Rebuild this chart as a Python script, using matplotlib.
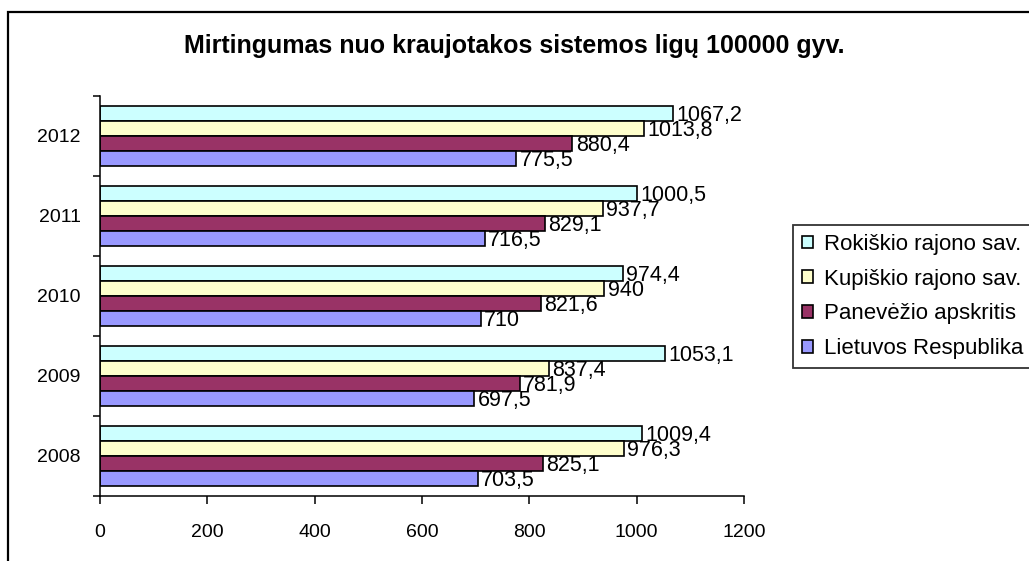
import matplotlib
matplotlib.use("Agg")
import matplotlib.pyplot as plt
from matplotlib import font_manager
from matplotlib.patches import Rectangle
from matplotlib.ticker import FixedLocator
import numpy as np

years = ["2008", "2009", "2010", "2011", "2012"]
rokiskio = [1009.4, 1053.1, 974.4, 1000.5, 1067.2]
kupiskio = [976.3, 837.4, 940, 937.7, 1013.8]
panevezio = [825.1, 781.9, 821.6, 829.1, 880.4]
lietuvos = [703.5, 697.5, 710, 716.5, 775.5]

series = [
    ("Rokiškio rajono sav.", rokiskio, "#CCFFFF"),
    ("Kupiškio rajono sav.", kupiskio, "#FFFFCC"),
    ("Panevėžio apskritis", panevezio, "#993366"),
    ("Lietuvos Respublika", lietuvos, "#9999FF"),
]

names = {f.name for f in font_manager.fontManager.ttflist}
base = "Liberation Sans" if "Liberation Sans" in names else "DejaVu Sans"
plt.rcParams["font.family"] = base

fig = plt.figure(figsize=(10.29, 5.61), dpi=100)
ax = fig.add_axes([100 / 1029, 1 - 496 / 561, 644 / 1029, 400 / 561])

y = np.arange(len(years))
h = 0.1875
for i, (name, vals, col) in enumerate(series):
    off = (1.5 - i) * h
    ax.barh(y + off, vals, height=h, color=col, edgecolor="black",
            linewidth=1.2, label=name)
    # value labels, decimal comma as in the original
    for yy, v in zip(y + off, vals):
        ax.text(v + 6, yy - 0.095, f"{v:g}".replace(".", ","), va="baseline",
                ha="left", fontsize=15.5)

ax.set_xlim(0, 1200)
ax.set_ylim(-0.5, len(years) - 0.5)
ax.set_xticks(range(0, 1201, 200))
ax.set_yticks(y)
ax.set_yticklabels(years)
ax.yaxis.set_minor_locator(FixedLocator(np.arange(-0.5, len(years), 1.0)))
ax.tick_params(axis="y", which="major", length=0, pad=14, labelsize=14)
ax.tick_params(axis="y", which="minor", length=5, width=1.1, direction="out")
ax.tick_params(axis="x", length=6, width=1.1, direction="out", pad=14, labelsize=14)
for s in ["top", "right"]:
    ax.spines[s].set_visible(False)
for s in ["left", "bottom"]:
    ax.spines[s].set_linewidth(1.1)

fig.text(0.5, 1 - 53 / 561, "Mirtingumas nuo kraujotakos sistemos ligų 100000 gyv.",
         ha="center", va="baseline", fontsize=18, fontweight="bold")

leg = fig.legend(loc="upper left", bbox_to_anchor=(793 / 1029, 1 - 225 / 561),
                 fontsize=16, frameon=True, fancybox=False, edgecolor="black",
                 handlelength=0.5, handleheight=0.5, handletextpad=0.5,
                 labelspacing=0.62, borderpad=0.4, borderaxespad=0)
leg.get_frame().set_linewidth(1.3)

fig.patches.append(Rectangle((8 / 1029, -0.1), 1.2, 1.1 - 12 / 561,
                             transform=fig.transFigure, fill=False,
                             edgecolor="black", linewidth=1.6))

fig.savefig("out.png", dpi=100)
